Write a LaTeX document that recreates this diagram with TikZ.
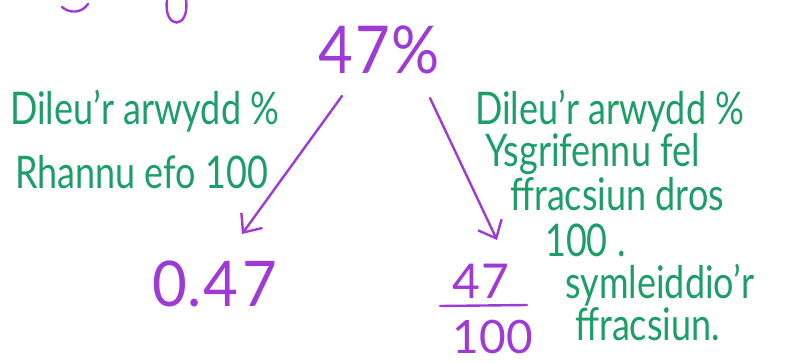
\documentclass[tikz,border=0pt]{standalone}
\usepackage{fontspec}
\usepackage{graphicx}
\setmainfont{Lato}
\usetikzlibrary{arrows.meta}
\definecolor{hgreen}{RGB}{28,158,104}
\definecolor{hpurple}{RGB}{158,58,214}
\newcommand\tallg[1]{\scalebox{1}[1.25]{#1}}
\tikzset{
  gtext/.style={text=hgreen, inner sep=0pt, anchor=base west, font=\fontsize{36}{40}\selectfont},
  ptext/.style={text=hpurple, inner sep=0pt, font=\fontsize{60}{64}\selectfont},
  arr/.style={draw=hpurple, line width=2.4pt, line cap=round, -{Straight Barb[length=15pt,width=26pt,line width=2.4pt]}},
  pline/.style={draw=hpurple, line width=2.4pt, line cap=round}
}
\begin{document}
\begin{tikzpicture}[x=1pt,y=-1pt]
\useasboundingbox (0,0) rectangle (787,362);
% cut-off fragments at the top
\draw[pline] (62,7) .. controls (70,14) and (82,13) .. (88,4);
\draw[pline] (167,0) .. controls (163,30) and (190,30) .. (186,0);
% main values
\node[ptext] (pct) at (379,50) {\scalebox{1}[1.1]{4\kern2pt 7\kern1pt\%}};
\node[ptext] (dec) at (215,284) {\scalebox{1}[1.05]{0.\kern2pt 4\kern5pt 7}};
\node[ptext, font=\fontsize{48}{52}\selectfont] (num) at (481,281) {4\kern2pt 7};
\node[ptext, font=\fontsize{46}{50}\selectfont] (den) at (493,337) {100};
\coordinate (fl) at (440,306);
\coordinate (fr) at (527,305);
\draw[pline] (fl) -- (fr);
% arrows
\coordinate (ls) at (342,96);
\coordinate (le) at (242,234);
\coordinate (rs) at (430,98);
\coordinate (re) at (497,240);
\draw[arr] (ls) -- (le);
\draw[arr] (rs) -- (re);
% left notes
\node[gtext] (l1) at (10,124) {\tallg{Dileu’r arwydd \%}};
\node[gtext] (l2) at (15,188) {\tallg{Rhannu efo 100}};
% right notes
\node[gtext] (r1) at (475,124) {\tallg{Dileu’r arwydd \%}};
\node[gtext] (r2) at (485,166) {\tallg{Ysgrifennu fel}};
\node[gtext] (r3) at (510,210) {\tallg{ffracsiun dros}};
\node[gtext] (r4) at (545,256) {\tallg{100 .}};
\node[gtext] (r5) at (565,298) {\tallg{symleiddio’r}};
\node[gtext] (r6) at (575,340) {\tallg{ffracsiun.}};
\end{tikzpicture}
\end{document}
